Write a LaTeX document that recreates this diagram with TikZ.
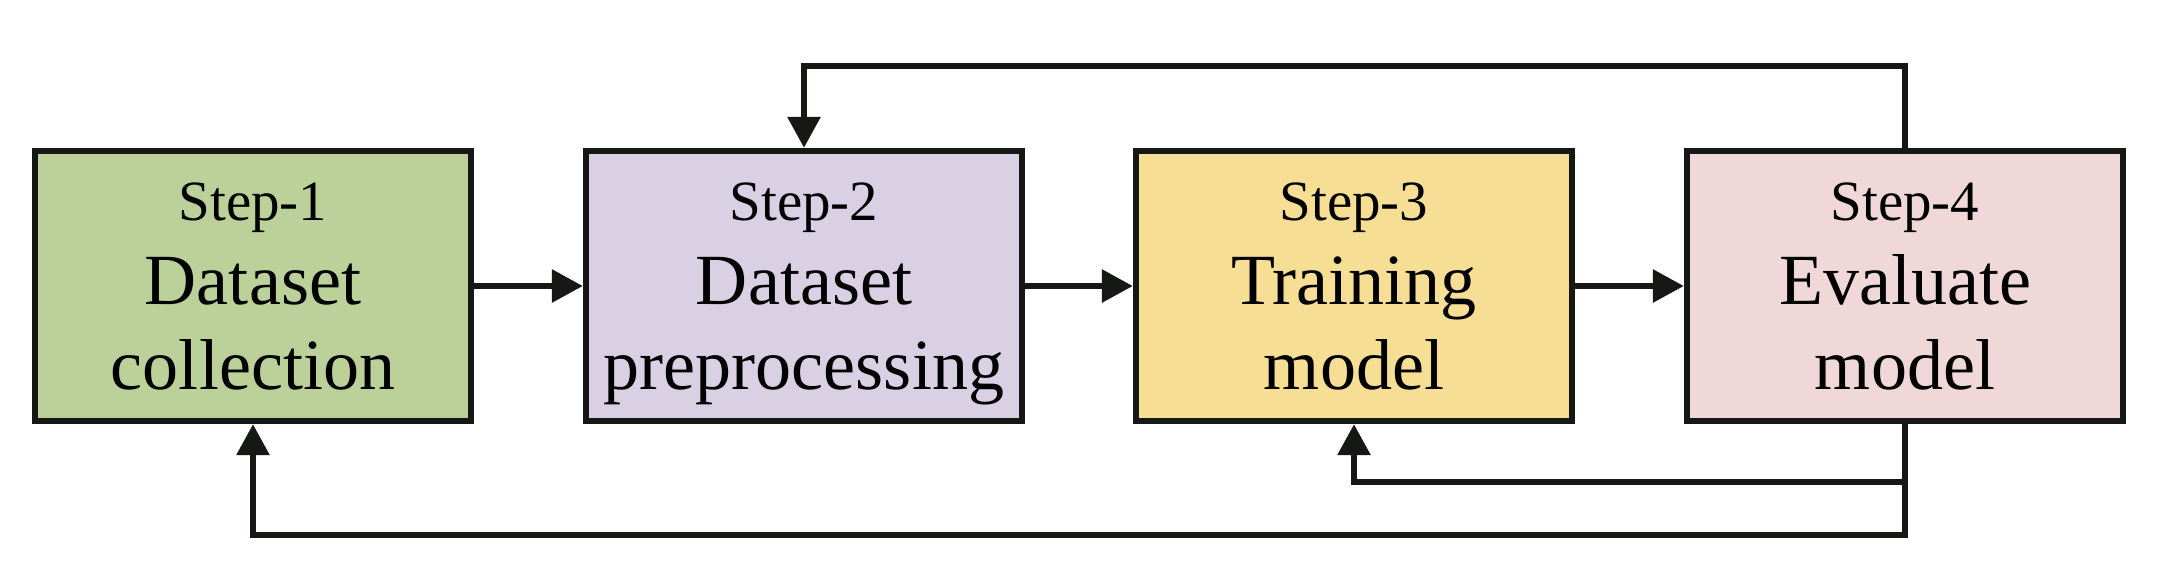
\documentclass[tikz,border=0pt]{standalone}
\usepackage{fontspec}
\setmainfont{Liberation Serif}
\usepackage{tikz}
\usepackage{xcolor}
\usetikzlibrary{arrows.meta}

\definecolor{boxline}{HTML}{161816}
\definecolor{stepgreen}{HTML}{BBD199}
\definecolor{steppurple}{HTML}{D9D1E3}
\definecolor{stepyellow}{HTML}{F6DF94}
\definecolor{steppink}{HTML}{EFD8D7}
\newcommand{\stepno}[1]{{\fontsize{16.2pt}{24pt}\selectfont Step-#1}}

\begin{document}
\begin{tikzpicture}[
		stepbox/.style = {rectangle,draw=boxline,line width=1.8pt,
			minimum width=4.36cm,minimum height=2.70cm,inner sep=0pt,
			align=center,text depth=0pt,font=\fontsize{20.5pt}{24pt}\selectfont},
		flow/.style = {draw=boxline,line width=1.7pt,
			-{Triangle[length=3.1mm,width=3.2mm]}}]
			\useasboundingbox (0,0) rectangle (21.57,5.76);
			\node[stepbox,fill=stepgreen] at (2.53,2.90) (s1) {\stepno{1}\\Dataset\\collection};
			\node[stepbox,fill=steppurple] at (8.04,2.90) (s2) {\stepno{2}\\Dataset\\preprocessing};
			\node[stepbox,fill=stepyellow] at (13.54,2.90) (s3) {\stepno{3}\\Training\\model};
			\node[stepbox,fill=steppink] at (19.05,2.90) (s4) {\stepno{4}\\Evaluate\\model};
			\draw[flow] (s1) -- (s2);
			\draw[flow] (s2) -- (s3);
			\draw[flow] (s3) -- (s4);
			\draw[flow] (s4.north) -- ++(0,0.82) -| (s2.north);
			\draw[flow] (s4.south) -- ++(0,-0.58) -| (s3.south);
			\draw[flow] (s4.south) -- ++(0,-1.11) -| (s1.south);
		\end{tikzpicture}
\end{document}
